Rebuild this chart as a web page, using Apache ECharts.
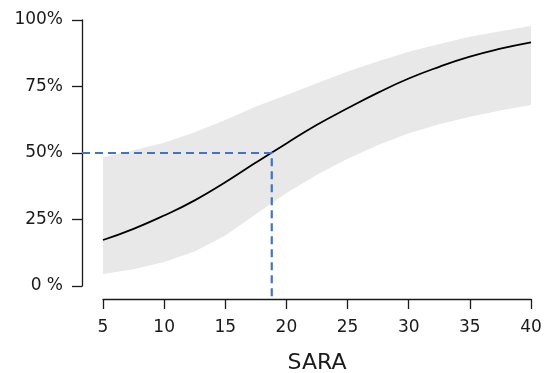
<!DOCTYPE html>
<html>
<head>
<meta charset="utf-8">
<script src="https://cdn.jsdelivr.net/npm/echarts@6/dist/echarts.min.js"></script>
<style>
html,body{margin:0;padding:0;background:#fff;}
#chart{width:552px;height:373px;}
</style>
</head>
<body>
<div id="chart"></div>
<script>
// ---- data ----
const sara = [5, 7.5, 10, 12.5, 15, 17.5, 20, 22.5, 25, 27.5, 30, 32.5, 35, 37.5, 40];
const probability = [0.173, 0.215, 0.265, 0.322, 0.390, 0.464, 0.536, 0.606, 0.668, 0.727, 0.780, 0.824, 0.862, 0.892, 0.916];
const lowerBound = [0.045, 0.063, 0.090, 0.130, 0.190, 0.270, 0.350, 0.418, 0.478, 0.530, 0.574, 0.608, 0.636, 0.660, 0.680];
const upperBound = [0.484, 0.510, 0.539, 0.578, 0.624, 0.675, 0.718, 0.762, 0.806, 0.845, 0.881, 0.910, 0.937, 0.958, 0.977];
const threshold = { x: 18.8, p: 0.5 };
const xTicks = [5, 10, 15, 20, 25, 30, 35, 40];
const yTickLabels = ['0 %', '25%', '50%', '75%', '100%'];
const xTitle = 'SARA';

// ---- layout ----
const grid = { left: 103, right: 21, top: 20, bottom: 87, containLabel: false, outerBoundsMode: 'none' };
const yAxisOffset = 21, xAxisOffset = 13;
const xMin = xTicks[0], xMax = xTicks[xTicks.length - 1];

const font = 'DejaVu Sans';
const ink = '#1a1a1a';
const dashColor = '#4472C4';

const chart = echarts.init(document.getElementById('chart'), null, { renderer: 'canvas' });

function renderBand(params, api) {
  if (params.dataIndex !== 0) return null;
  const pts = [];
  for (let i = 0; i < sara.length; i++) pts.push(api.coord([sara[i], upperBound[i]]));
  for (let i = sara.length - 1; i >= 0; i--) pts.push(api.coord([sara[i], lowerBound[i]]));
  return {
    type: 'polygon',
    shape: { points: pts },
    style: { fill: '#e8e8e8', stroke: null }
  };
}

chart.setOption({
  animation: false,
  backgroundColor: '#fff',
  grid: grid,
  xAxis: {
    type: 'value', min: xMin, max: xMax, interval: 5,
    offset: xAxisOffset,
    name: xTitle, nameLocation: 'middle', nameGap: 53,
    nameTextStyle: { fontFamily: font, fontSize: 22, color: ink },
    axisLine: { show: true, onZero: false, lineStyle: { color: ink, width: 1.3 } },
    axisTick: { show: true, length: 10, lineStyle: { color: ink, width: 1.3 } },
    axisLabel: { margin: 20, fontFamily: font, fontSize: 17, color: ink },
    splitLine: { show: false }
  },
  yAxis: {
    type: 'value', min: 0, max: 1, interval: 0.25,
    offset: yAxisOffset,
    axisLine: { show: true, onZero: false, lineStyle: { color: ink, width: 1.3 } },
    axisTick: { show: true, length: 10, lineStyle: { color: ink, width: 1.3 } },
    axisLabel: { margin: 19, fontFamily: font, fontSize: 17, color: ink,
      formatter: (v) => yTickLabels[Math.round(v / 0.25)] },
    splitLine: { show: false }
  },
  series: [
    {
      type: 'custom', silent: true, z: 1,
      data: sara.map((x, i) => [x, lowerBound[i], upperBound[i]]),
      encode: { x: 0, y: [1, 2] },
      renderItem: renderBand
    },
    {
      type: 'line', symbol: 'none', smooth: true, silent: true,
      data: sara.map((x, i) => [x, probability[i]]),
      lineStyle: { color: '#000', width: 1.8 }, z: 3
    }
  ]
});

// dashed threshold guide from the (offset) y axis line to the curve and down to the (offset) x axis line
const p = chart.convertToPixel({ gridIndex: 0 }, [threshold.x, threshold.p]);
const rect = chart.getModel().getComponent('grid', 0).coordinateSystem.getRect();
const axisX = rect.x - yAxisOffset;
const axisY = rect.y + rect.height + xAxisOffset;
chart.setOption({
  graphic: [{
    type: 'polyline', z: 10, silent: true,
    shape: { points: [[axisX, p[1]], [p[0], p[1]], [p[0], axisY]] },
    style: { stroke: dashColor, lineWidth: 2.2, lineDash: [8, 5], fill: null }
  }]
});
</script>
</body>
</html>
